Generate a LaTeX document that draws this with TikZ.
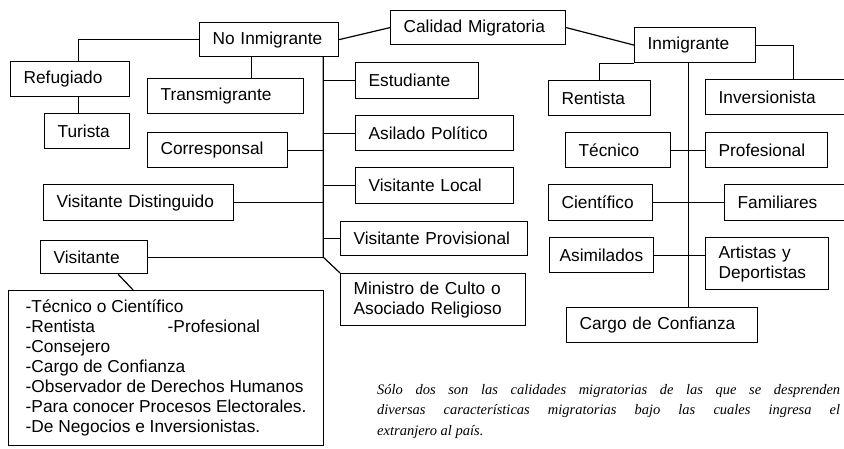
\documentclass[tikz,border=0pt]{standalone}
\usepackage{fontspec}
\setmainfont{Liberation Sans}
\newfontfamily\serifit{Liberation Serif}

\tikzset{
  caja/.style={draw, line width=1.2pt, anchor=north west, inner xsep=13pt, inner ysep=2pt,
               align=left, font=\fontsize{17.3}{20}\selectfont},
  linea/.style={line width=1.2pt},
}

\begin{document}
\begin{tikzpicture}[x=1pt, y=-1pt]
 \useasboundingbox (0,0) rectangle (844,448);
 \clip (0,0) rectangle (844,448);

 %top level
 \foreach \nom/\x/\y/\w/\h/\txt in {calidad/390/10/149/34/Calidad Migratoria,
     noinm/199/22/113/34/No Inmigrante, inm/634/27/95/35/Inmigrante} {
     \node[caja, text width=\w pt, minimum height=\h pt] (\nom) at (\x,\y) {\txt};
 }

 %no inmigrante
 \foreach \nom/\x/\y/\w/\h/\txt in {refugiado/10/61/93/35/Refugiado,
     turista/44/113/59/35/Turista, transmigrante/147/78/130/35/Transmigrante,
     estudiante/355/62/97/36/Estudiante, asilado/355/115/132/35/Asilado Político,
     corresponsal/147/132/114/35/Corresponsal, vlocal/355/167/132/36/Visitante Local,
     vdistinguido/43/184/164/36/Visitante Distinguido,
     vprovisional/340/221/161/34/Visitante Provisional,
     visitante/40/240/81/33/Visitante} {
     \node[caja, text width=\w pt, minimum height=\h pt] (\nom) at (\x,\y) {\txt};
 }
 \node[caja, text width=159pt, minimum height=52pt] (ministro) at (340,273)
      {\makebox[149pt][s]{Ministro de Culto o}\\Asociado Religioso};
 \node[caja, inner xsep=0pt, minimum width=315pt, minimum height=155pt] (lista) at (8,290)
      {-Técnico o Científico\\ \makebox[142pt][l]{-Rentista}-Profesional\\ -Consejero\\
       -Cargo de Confianza\\ -Observador de Derechos Humanos\\
       -Para conocer Procesos Electorales.\\ -De Negocios e Inversionistas.};

 %inmigrante
 \foreach \nom/\x/\y/\w/\h/\txt in {rentista/548/80/76/35/Rentista,
     inversionista/705/79/149/35/Inversionista, tecnico/565/132/79/35/Técnico,
     profesional/705/132/96/35/Profesional, cientifico/548/184/78/36/Científico,
     familiares/724/184/110/36/Familiares, cargo/566/307/165/35/Cargo de Confianza} {
     \node[caja, text width=\w pt, minimum height=\h pt] (\nom) at (\x,\y) {\txt};
 }
 \node[caja, inner xsep=10pt, text width=84pt, minimum height=35pt] (asimilados) at (549,237) {Asimilados};
 \node[caja, text width=97pt, minimum height=52pt] (artistas) at (705,237)
      {\makebox[88pt][s]{Artistas y}\\Deportistas};

 \node[anchor=north west, inner sep=0pt, align=left,
       font=\serifit\itshape\fontsize{14.5}{20.5}\selectfont] (nota) at (377,384)
      {\makebox[463pt][s]{Sólo dos son las calidades migratorias de las que se desprenden}\\
       \makebox[463pt][s]{diversas características migratorias bajo las cuales ingresa el}\\
       extranjero al país.};

 % lines
 \draw[linea] (noinm.east) -- (calidad.west);
 \draw[linea] (calidad.east) -- (inm.west);

 \draw[linea] (noinm.west) -| ([xshift=8pt]refugiado.north);
 \draw[linea] ([xshift=8pt]refugiado.south) -- ([xshift=8pt]refugiado.south |- turista.north);
 \draw[linea] ([xshift=-18pt]noinm.south) -- ([xshift=-18pt]noinm.south |- transmigrante.north);

 \coordinate (troncoNI) at ([xshift=-16pt]noinm.south east);
 \coordinate (finNI) at (troncoNI |- visitante.east);
 \draw[linea] (troncoNI) -- (finNI) -- (ministro.north west);
 \foreach \n in {estudiante, asilado, vlocal, vprovisional}
     \draw[linea] (\n.west) -- (\n.west -| troncoNI);
 \foreach \n in {corresponsal, vdistinguido}
     \draw[linea] (\n.east) -- (\n.east -| troncoNI);
 \draw[linea] (visitante.east) -- (finNI);
 \draw[linea] ([xshift=24pt]visitante.south) -- ([xshift=-33pt]lista.north);

 \coordinate (troncoI) at ([xshift=-7pt]inm.south);
 \draw[linea] (troncoI) -- (troncoI |- cargo.north);
 \draw[linea] (inm.south west) -| (rentista.north);
 \draw[linea] (inm.east) -| (inversionista.north);
 \draw[linea] (tecnico.east) -- (profesional.west);
 \draw[linea] (cientifico.east) -- (familiares.west);
 \draw[linea] (asimilados.east) -- (asimilados.east -| artistas.west);

\end{tikzpicture}
\end{document}
